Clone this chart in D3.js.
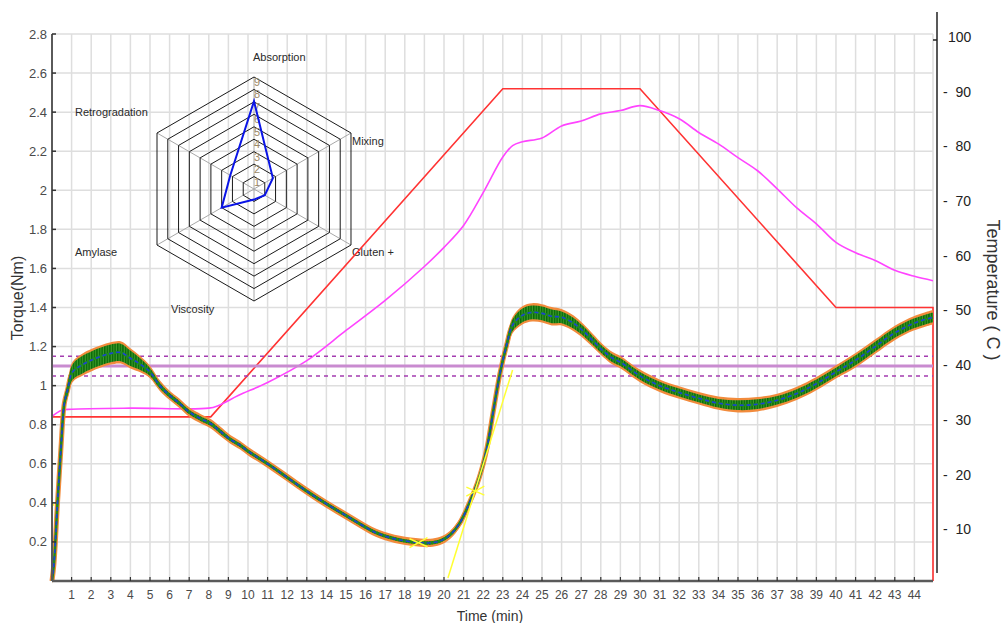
<!DOCTYPE html>
<html>
<head>
<meta charset="utf-8">
<script src="https://cdn.jsdelivr.net/npm/d3@7"></script>
<style>
  body { margin: 0; background: #fff; }
  text { font-family: "Liberation Sans", Arial, sans-serif; }
</style>
</head>
<body>
<div id="vis"></div>
<script>
const width = 1006;
const height = 623;

// torque curve (Nm)
const torqueTime = [0, 0.1, 0.28, 0.45, 0.63, 0.8, 1.05, 1.6, 2, 2.5, 3, 3.5, 4, 4.5, 5, 5.5, 6, 6.5, 7, 7.6, 8.1, 8.6, 9.1, 9.6, 10, 11, 12, 13, 14, 15, 16, 16.7, 17.75, 18.8, 19.3, 19.8, 20.3, 20.8, 21.3, 21.8, 22.2, 22.5, 22.85, 23.2, 23.5, 24, 24.5, 25, 25.5, 26, 26.6, 27.1, 27.6, 28.1, 28.6, 29, 30, 31, 32, 33, 34, 35, 36, 37, 38, 39, 40, 41, 42, 43, 44, 44.95];
const torqueValue = [0, 0.09, 0.40, 0.67, 0.91, 0.98, 1.07, 1.11, 1.13, 1.15, 1.165, 1.17, 1.14, 1.11, 1.07, 1.0, 0.95, 0.91, 0.865, 0.83, 0.805, 0.765, 0.725, 0.695, 0.665, 0.6, 0.53, 0.46, 0.395, 0.335, 0.275, 0.24, 0.21, 0.196, 0.195, 0.205, 0.235, 0.296, 0.40, 0.53, 0.685, 0.86, 1.06, 1.21, 1.31, 1.36, 1.375, 1.37, 1.355, 1.35, 1.32, 1.28, 1.23, 1.18, 1.14, 1.12, 1.05, 1.0, 0.965, 0.935, 0.91, 0.9, 0.905, 0.925, 0.96, 1.01, 1.07, 1.13, 1.2, 1.27, 1.32, 1.35];
// half width of the noisy band around the torque trace
const torqueSpread = [0.004, 0.006, 0.008, 0.01, 0.02, 0.03, 0.04, 0.045, 0.045, 0.045, 0.045, 0.045, 0.04, 0.03, 0.02, 0.015, 0.012, 0.012, 0.012, 0.012, 0.012, 0.012, 0.01, 0.01, 0.01, 0.009, 0.009, 0.009, 0.009, 0.009, 0.009, 0.009, 0.009, 0.009, 0.009, 0.009, 0.009, 0.01, 0.01, 0.012, 0.012, 0.015, 0.02, 0.025, 0.03, 0.035, 0.035, 0.035, 0.035, 0.03, 0.028, 0.025, 0.022, 0.02, 0.02, 0.02, 0.02, 0.02, 0.02, 0.02, 0.022, 0.025, 0.025, 0.022, 0.022, 0.022, 0.022, 0.025, 0.025, 0.025, 0.025, 0.025];

// dough temperature (C)
const tempTime = [0, 0.5, 1, 4, 8, 8.5, 9.5, 11, 13, 15, 17, 19, 20, 21, 22, 23, 23.5, 24, 25, 26, 27, 28, 29, 30, 31, 32, 33, 34, 35, 36, 37, 38, 39, 40, 41, 42, 43, 44, 44.95];
const tempValue = [30.1, 31.2, 31.4, 31.6, 31.6, 32.1, 33.9, 36.3, 40.3, 45.8, 51.3, 57.5, 61, 65, 71, 77.5, 79.6, 80.3, 81, 83.2, 84.1, 85.4, 86, 86.9, 86, 84.5, 82, 79.9, 77.4, 75, 71.7, 68.2, 65.3, 61.9, 60, 58.6, 56.8, 55.7, 54.9];

// heating programme (C)
const setTime = [0, 8.1, 23.0, 30.0, 40.0, 44.95, 44.95];
const setValue = [30, 30, 90, 90, 50, 50, 0];

// reference band (Nm)
const targetLine = 1.1;
const targetBand = [1.05, 1.15];

// tangent helper line
const tangentTime = [20.2, 23.5];
const tangentValue = [0.015, 1.08];
const markerTime = [18.7, 21.6];
const markerValue = [0.196, 0.46];

// radar
const radarAxes = ["Absorption", "Mixing", "Gluten +", "Viscosity", "Amylase", "Retrogradation"];
const radarValues = [7.05, 1.75, 1.0, 0.85, 3.0, 2.2];
const radarLevels = [1, 2, 3, 4, 5, 6, 7, 8, 9];

const torqueTicks = [0.2, 0.4, 0.6, 0.8, 1, 1.2, 1.4, 1.6, 1.8, 2, 2.2, 2.4, 2.6, 2.8];
const timeTicks = d3.range(1, 45);
const tempTicks = [10, 20, 30, 40, 50, 60, 70, 80, 90, 100];

const x = d3.scaleLinear().domain([0, 44.95]).range([52, 933]);
const yT = d3.scaleLinear().domain([0, 2.8]).range([581, 34]);
const yC = d3.scaleLinear().domain([0, 100]).range([581, 34]);

const svg = d3.select("#vis").append("svg")
  .attr("width", width)
  .attr("height", height)
  .style("background", "#fff");

const defs = svg.append("defs");
const pat = defs.append("pattern")
  .attr("id", "noise")
  .attr("patternUnits", "userSpaceOnUse")
  .attr("width", 2.6).attr("height", 8);
pat.append("rect").attr("width", 2.6).attr("height", 8).attr("fill", "#3f9c2a");
pat.append("rect").attr("width", 1.5).attr("height", 8).attr("fill", "#0a6a0a");

// grid
const grid = svg.append("g");
grid.selectAll(".vg").data(timeTicks.concat([44.95])).enter().append("line")
  .attr("x1", d => x(d)).attr("x2", d => x(d))
  .attr("y1", yT(2.8)).attr("y2", yT(0))
  .attr("stroke", "#dedede").attr("stroke-width", 1.5);
grid.selectAll(".hg").data(torqueTicks).enter().append("line")
  .attr("x1", x(0)).attr("x2", x(44.95))
  .attr("y1", d => yT(d)).attr("y2", d => yT(d))
  .attr("stroke", "#dedede").attr("stroke-width", 1.5);

// radar chart
const cx = 254, cy = 189;
const rr = d3.scaleLinear().domain([0, 9]).range([0, 112]);
const ang = i => -Math.PI / 2 + i * Math.PI / 3;
const pt = (i, v) => [cx + rr(v) * Math.cos(ang(i)), cy + rr(v) * Math.sin(ang(i))];
const radar = svg.append("g");
radar.selectAll(".spoke").data(radarAxes).enter().append("line")
  .attr("x1", cx).attr("y1", cy)
  .attr("x2", (d, i) => pt(i, 9)[0]).attr("y2", (d, i) => pt(i, 9)[1])
  .attr("stroke", "#a8a8a8").attr("stroke-width", 1);
radar.selectAll(".ring").data(radarLevels).enter().append("polygon")
  .attr("points", k => radarAxes.map((d, i) => pt(i, k).join(",")).join(" "))
  .attr("fill", "none").attr("stroke", "#1a1a1a").attr("stroke-width", 1);
radar.selectAll(".lvl").data(radarLevels).enter().append("text")
  .attr("x", cx + 3).attr("y", k => cy - rr(k) + 9)
  .attr("text-anchor", "middle")
  .attr("font-size", 11).attr("fill", "#9c8866")
  .text(k => k);
radar.append("polygon")
  .attr("points", radarValues.map((v, i) => pt(i, v).join(",")).join(" "))
  .attr("fill", "none").attr("stroke", "#0a14e6").attr("stroke-width", 2);
const labelOffset = [[-1, -128], [98, -44], [98, 67], [-83, 124], [-179, 67], [-179, -73]];
radar.selectAll(".axl").data(radarAxes).enter().append("text")
  .attr("x", (d, i) => cx + labelOffset[i][0])
  .attr("y", (d, i) => cy + labelOffset[i][1])
  .attr("font-size", 11).attr("fill", "#2a2a2a")
  .text(d => d);

// set temperature and dough temperature
svg.append("path")
  .datum(setTime.map((t, i) => [t, setValue[i]]))
  .attr("d", d3.line().x(d => x(d[0])).y(d => yC(d[1])))
  .attr("fill", "none").attr("stroke", "#ff3333").attr("stroke-width", 1.6);
svg.append("path")
  .datum(tempTime.map((t, i) => [t, tempValue[i]]))
  .attr("d", d3.line().x(d => x(d[0])).y(d => yC(d[1])).curve(d3.curveCatmullRom.alpha(0.5)))
  .attr("fill", "none").attr("stroke", "#ff44ff").attr("stroke-width", 1.6);

// reference band
svg.append("line")
  .attr("x1", x(0)).attr("x2", x(44.95))
  .attr("y1", yT(targetLine)).attr("y2", yT(targetLine))
  .attr("stroke", "#c98bd0").attr("stroke-width", 3);
svg.selectAll(".band").data(targetBand).enter().append("line")
  .attr("x1", x(0)).attr("x2", x(44.95))
  .attr("y1", d => yT(d)).attr("y2", d => yT(d))
  .attr("stroke", "#a43db0").attr("stroke-width", 1.5)
  .attr("stroke-dasharray", "4,4");

// torque trace
const tq = torqueTime.map((t, i) => ({ t: t, v: torqueValue[i], s: torqueSpread[i] }));
const curve = d3.curveCatmullRom.alpha(0.5);
svg.append("path").datum(tq)
  .attr("d", d3.area().x(d => x(d.t)).y0(d => yT(d.v - d.s - 0.012)).y1(d => yT(d.v + d.s + 0.012)).curve(curve))
  .attr("fill", "#f28b3c");
svg.append("path").datum(tq)
  .attr("d", d3.line().x(d => x(d.t)).y(d => yT(d.v)).curve(curve))
  .attr("fill", "none").attr("stroke", "#f28b3c").attr("stroke-width", 5);
svg.append("path").datum(tq)
  .attr("d", d3.area().x(d => x(d.t)).y0(d => yT(d.v - d.s)).y1(d => yT(d.v + d.s)).curve(curve))
  .attr("fill", "url(#noise)");
svg.append("path").datum(tq)
  .attr("d", d3.line().x(d => x(d.t)).y(d => yT(d.v)).curve(curve))
  .attr("fill", "none").attr("stroke", "#1f8a1f").attr("stroke-width", 2.6);
svg.append("path").datum(tq)
  .attr("d", d3.line().x(d => x(d.t)).y(d => yT(d.v)).curve(curve))
  .attr("fill", "none").attr("stroke", "#1b3fd6").attr("stroke-width", 1.6)
  .attr("stroke-dasharray", "4,3");

// tangent and markers
svg.append("line")
  .attr("x1", x(tangentTime[0])).attr("y1", yT(tangentValue[0]))
  .attr("x2", x(tangentTime[1])).attr("y2", yT(tangentValue[1]))
  .attr("stroke", "#ffff33").attr("stroke-width", 1.5);
const mk = svg.selectAll(".mk").data(markerTime).enter().append("g")
  .attr("transform", (d, i) => `translate(${x(d)},${yT(markerValue[i])})`);
mk.append("line").attr("x1", -9).attr("y1", 5).attr("x2", 9).attr("y2", -5)
  .attr("stroke", "#ffff33").attr("stroke-width", 1.5);
mk.append("line").attr("x1", -9).attr("y1", -4).attr("x2", 9).attr("y2", 4)
  .attr("stroke", "#ffff33").attr("stroke-width", 1.5);
svg.append("line")
  .attr("x1", x(0)).attr("x2", x(0.12)).attr("y1", yT(0.39)).attr("y2", yT(0.39))
  .attr("stroke", "#ffff33").attr("stroke-width", 2);

// left axis
const left = svg.append("g");
left.append("line").attr("x1", 52).attr("x2", 52).attr("y1", yT(2.8)).attr("y2", yT(0))
  .attr("stroke", "#5a5a5a").attr("stroke-width", 2);
left.selectAll(".lt").data(torqueTicks).enter().append("line")
  .attr("x1", 52).attr("x2", 56).attr("y1", d => yT(d)).attr("y2", d => yT(d))
  .attr("stroke", "#333").attr("stroke-width", 1.5);
left.selectAll(".ll").data(torqueTicks).enter().append("text")
  .attr("x", 47).attr("y", d => yT(d)).attr("dy", "0.35em")
  .attr("text-anchor", "end").attr("font-size", 13).attr("fill", "#4a4a4a")
  .text(d => d3.format("~g")(d));

// bottom axis
const bottom = svg.append("g");
bottom.append("line").attr("x1", 52).attr("x2", 933).attr("y1", 581).attr("y2", 581)
  .attr("stroke", "#5a5a5a").attr("stroke-width", 2.5);
bottom.selectAll(".bt").data(timeTicks).enter().append("line")
  .attr("x1", d => x(d)).attr("x2", d => x(d)).attr("y1", 581).attr("y2", 577)
  .attr("stroke", "#333").attr("stroke-width", 1.2);
bottom.selectAll(".bl").data(timeTicks).enter().append("text")
  .attr("x", d => x(d)).attr("y", 599)
  .attr("text-anchor", "middle").attr("font-size", 12).attr("fill", "#4a4a4a")
  .text(d => d);

// right axis
const right = svg.append("g");
right.append("line").attr("x1", 937).attr("x2", 937).attr("y1", 12).attr("y2", 573)
  .attr("stroke", "#222").attr("stroke-width", 1.5);
right.append("line").attr("x1", 933).attr("x2", 937).attr("y1", yC(100) + 6).attr("y2", yC(100) + 6)
  .attr("stroke", "#222").attr("stroke-width", 1.5);
right.selectAll(".rl").data(tempTicks).enter().append("text")
  .attr("x", d => d === 100 ? 948 : 943).attr("y", d => yC(d) + 3).attr("dy", "0.35em")
  .attr("font-size", 14).attr("fill", "#222")
  .attr("xml:space", "preserve")
  .text(d => d === 100 ? "100" : "-  " + d);

// titles
svg.append("text")
  .attr("transform", "translate(23,298) rotate(-90)")
  .attr("text-anchor", "middle").attr("font-size", 16).attr("fill", "#333")
  .text("Torque(Nm)");
svg.append("text")
  .attr("x", 490).attr("y", 621)
  .attr("text-anchor", "middle").attr("font-size", 14).attr("fill", "#333")
  .text("Time (min)");
svg.append("text")
  .attr("transform", "translate(987,290) rotate(90)")
  .attr("text-anchor", "middle").attr("font-size", 18).attr("fill", "#333")
  .attr("xml:space", "preserve")
  .text("Temperature ( C )");
</script>
</body>
</html>
